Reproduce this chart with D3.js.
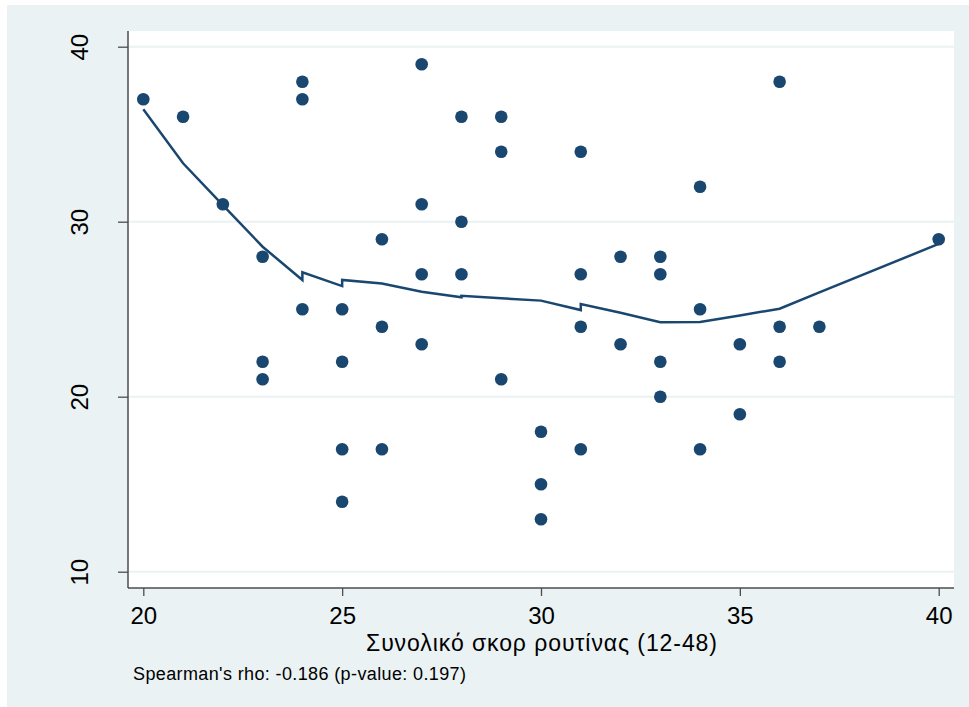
<!DOCTYPE html>
<html>
<head>
<meta charset="utf-8">
<script src="https://cdn.jsdelivr.net/npm/d3@7"></script>
<style>
  html, body { margin: 0; padding: 0; background: #ffffff; }
  svg { display: block; font-family: "Liberation Sans", Arial, sans-serif; }
</style>
</head>
<body>
<svg id="chart" width="969" height="707"></svg>
<script>
// Observations: total routine score (x) vs outcome score (y)
const scoreX = [20, 21, 22, 23, 23, 23, 24, 24, 24, 25, 25, 25, 25, 26, 26, 26,
                27, 27, 27, 27, 28, 28, 28, 29, 29, 29, 30, 30, 30, 31, 31, 31, 31,
                32, 32, 33, 33, 33, 33, 34, 34, 34, 35, 35, 36, 36, 36, 37, 40];
const scoreY = [37, 36, 31, 28, 22, 21, 38, 37, 25, 25, 22, 17, 14, 29, 24, 17,
                39, 31, 27, 23, 36, 30, 27, 36, 34, 21, 18, 15, 13, 34, 27, 24, 17,
                28, 23, 28, 27, 22, 20, 32, 25, 17, 23, 19, 38, 24, 22, 24, 29];

// Lowess smoother, in sort order (tied x values carry separate fits)
const lowessX = [20, 21, 22, 23, 24, 24, 25, 25, 26, 27, 28, 28, 29, 30, 31, 31,
                 32, 33, 34, 35, 36, 37, 40];
const lowessY = [36.42, 33.34, 30.95, 28.57, 26.67, 27.11, 26.32, 26.67, 26.47, 26.0,
                 25.68, 25.77, 25.62, 25.49, 24.95, 25.3, 24.8, 24.25, 24.27, 24.64,
                 25.03, 25.96, 28.73];

const xTicks = [20, 25, 30, 35, 40];
const yTicks = [10, 20, 30, 40];
const xTitle = "Συνολικό σκορ ρουτίνας (12-48)";
const note = "Spearman's rho: -0.186 (p-value: 0.197)";

const navy = "#1a476f";
const bluishGray = "#eaf2f3";
const axisColor = "#4d4d4d";

const svg = d3.select("#chart");

// plot region bounds
const plot = { left: 128, top: 31, right: 954, bottom: 588 };

const x = d3.scaleLinear().domain([20, 40]).range([143.3, 938.7]);
const y = d3.scaleLinear().domain([10, 40]).range([571.7, 46.7]);

// graph region background
svg.append("rect")
  .attr("x", 7).attr("y", 5).attr("width", 962).attr("height", 702)
  .attr("fill", bluishGray);

// plot region
svg.append("rect")
  .attr("x", plot.left).attr("y", plot.top)
  .attr("width", plot.right - plot.left).attr("height", plot.bottom - plot.top)
  .attr("fill", "#ffffff");

// horizontal grid lines
svg.append("g")
  .selectAll("line")
  .data(yTicks)
  .join("line")
  .attr("x1", plot.left).attr("x2", plot.right)
  .attr("y1", d => y(d)).attr("y2", d => y(d))
  .attr("stroke", bluishGray).attr("stroke-width", 2);

// y axis
const yAxis = svg.append("g")
  .attr("transform", `translate(${plot.left},0)`)
  .call(d3.axisLeft(y).tickValues(yTicks).tickSize(10).tickFormat(d3.format("d")));
yAxis.select(".domain").remove();
yAxis.selectAll(".tick line").attr("stroke", axisColor).attr("stroke-width", 1.3);
yAxis.selectAll(".tick text")
  .attr("x", null).attr("dy", null)
  .attr("transform", "translate(-40,0) rotate(-90)")
  .attr("text-anchor", "middle")
  .attr("font-size", 24)
  .attr("font-family", "'Liberation Sans', Arial, sans-serif")
  .attr("fill", "#000");

// x axis
const xAxis = svg.append("g")
  .attr("transform", `translate(0,${plot.bottom})`)
  .call(d3.axisBottom(x).tickValues(xTicks).tickSize(8).tickPadding(11).tickFormat(d3.format("d")));
xAxis.select(".domain").remove();
xAxis.selectAll(".tick line").attr("stroke", axisColor).attr("stroke-width", 1.3);
xAxis.selectAll(".tick text")
  .attr("font-size", 24)
  .attr("font-family", "'Liberation Sans', Arial, sans-serif")
  .attr("fill", "#000");

// axis lines spanning the plot region
svg.append("line")
  .attr("x1", plot.left).attr("x2", plot.left)
  .attr("y1", plot.top).attr("y2", plot.bottom)
  .attr("stroke", axisColor).attr("stroke-width", 1.5);
svg.append("line")
  .attr("x1", plot.left).attr("x2", plot.right)
  .attr("y1", plot.bottom).attr("y2", plot.bottom)
  .attr("stroke", axisColor).attr("stroke-width", 1.5);

// scatter points
svg.append("g")
  .selectAll("circle")
  .data(d3.zip(scoreX, scoreY))
  .join("circle")
  .attr("cx", d => x(d[0]))
  .attr("cy", d => y(d[1]))
  .attr("r", 6.3)
  .attr("fill", navy);

// lowess line
const line = d3.line().x(d => x(d[0])).y(d => y(d[1]));
svg.append("path")
  .datum(d3.zip(lowessX, lowessY))
  .attr("d", line)
  .attr("fill", "none")
  .attr("stroke", navy)
  .attr("stroke-width", 2.5)
  .attr("stroke-linejoin", "miter");

// axis title
svg.append("text")
  .attr("x", 366)
  .attr("y", 651)
  .attr("font-size", 23)
  .attr("textLength", 351)
  .attr("lengthAdjust", "spacing")
  .attr("fill", "#000")
  .text(xTitle);

// note
svg.append("text")
  .attr("x", 133)
  .attr("y", 680)
  .attr("font-size", 18)
  .attr("textLength", 333)
  .attr("lengthAdjust", "spacing")
  .attr("fill", "#000")
  .text(note);
</script>
</body>
</html>
